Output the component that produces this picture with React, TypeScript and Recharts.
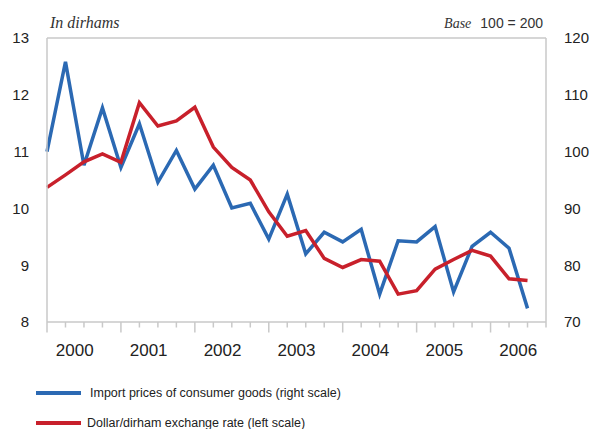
import React from 'react';
import { LineChart, Line, XAxis, YAxis, ReferenceLine } from 'recharts';

const quarters = [
  '2000Q1', '2000Q2', '2000Q3', '2000Q4',
  '2001Q1', '2001Q2', '2001Q3', '2001Q4',
  '2002Q1', '2002Q2', '2002Q3', '2002Q4',
  '2003Q1', '2003Q2', '2003Q3', '2003Q4',
  '2004Q1', '2004Q2', '2004Q3', '2004Q4',
  '2005Q1', '2005Q2', '2005Q3', '2005Q4',
  '2006Q1', '2006Q2', '2006Q3', '2006Q4',
];

const years = ['2000', '2001', '2002', '2003', '2004', '2005', '2006'];

// Right scale (index)
const importPrices = [
  100.0, 115.8, 97.6, 107.7, 97.2, 104.9, 94.6, 100.2, 93.4, 97.6, 90.1, 90.9,
  84.6, 92.5, 82.0, 85.8, 84.1, 86.3, 74.9, 84.3, 84.1, 86.8, 75.3, 83.3, 85.8,
  83.0, 72.4,
];

// Left scale (dirhams)
const exchangeRate = [
  10.37, 10.59, 10.82, 10.96, 10.81, 11.86, 11.45, 11.54, 11.78, 11.08, 10.72,
  10.5, 9.94, 9.51, 9.61, 9.12, 8.96, 9.1, 9.07, 8.49, 8.55, 8.93, 9.1, 9.26,
  9.16, 8.76, 8.73,
];

const leftTicks = [8, 9, 10, 11, 12, 13];
const rightTicks = [70, 80, 90, 100, 110, 120];
const quarterTicks = quarters.map((_, i) => i).slice(0, 28);
const yearTicks = years.map((_, k) => k * 4 + 1.5);

const importName = 'Import prices of consumer goods (right scale)';
const rateName = 'Dollar/dirham exchange rate (left scale)';

const BLUE = '#2b69b3';
const RED = '#c8202b';
const FRAME = '#c9c9c9';

const data = quarters.map((q, i) => ({
  i,
  q,
  imp: i < importPrices.length ? importPrices[i] : null,
  rate: i < exchangeRate.length ? exchangeRate[i] : null,
}));

const QuarterTick = (props: any) => {
  const { x, y, payload } = props;
  const major = payload.value % 4 === 0;
  return (
    <line
      x1={x}
      y1={y}
      x2={x}
      y2={y + (major ? 10.5 : 5.5)}
      stroke={FRAME}
      strokeWidth={1.5}
    />
  );
};

export default function App() {
  const sans = 'Arial, "Liberation Sans", Helvetica, sans-serif';
  const serif = '"Liberation Serif", "Times New Roman", serif';
  return (
    <div
      style={{
        position: 'absolute',
        left: 0,
        top: 0,
        width: 591,
        height: 429,
        background: '#fff',
        overflow: 'hidden',
      }}
    >
      <div
        style={{
          position: 'absolute',
          left: 50,
          top: 14,
          fontFamily: serif,
          fontStyle: 'italic',
          fontSize: 16,
          lineHeight: '18px',
          color: '#333',
        }}
      >
        In dirhams
      </div>
      <div
        style={{
          position: 'absolute',
          right: 48,
          top: 15,
          fontSize: 14,
          lineHeight: '16px',
          color: '#333',
          whiteSpace: 'nowrap',
        }}
      >
        <span style={{ fontFamily: serif, fontStyle: 'italic' }}>Base</span>
        <span style={{ fontFamily: sans, marginLeft: 9 }}>100 = 200</span>
      </div>

      <LineChart
        width={591}
        height={429}
        data={data}
        margin={{ top: 38, right: 0, left: 0, bottom: 55 }}
      >
        <XAxis
          xAxisId="q"
          dataKey="i"
          type="number"
          domain={[0, 27]}
          ticks={quarterTicks}
          interval={0}
          tickLine={false}
          tickSize={0}
          tickMargin={0}
          axisLine={{ stroke: FRAME, strokeWidth: 1.5 }}
          tick={<QuarterTick />}
          height={12}
        />
        <XAxis
          xAxisId="y"
          dataKey="i"
          type="number"
          domain={[0, 27]}
          ticks={yearTicks}
          interval={0}
          tickLine={false}
          tickSize={0}
          tickMargin={10}
          axisLine={false}
          tickFormatter={(v: number) => years[Math.floor(v / 4)]}
          tick={{ fill: '#222', fontSize: 17, fontFamily: sans }}
          height={40}
        />
        <YAxis
          yAxisId="left"
          orientation="left"
          domain={[8, 13]}
          ticks={leftTicks}
          interval={0}
          width={47}
          tickLine={false}
          tickSize={0}
          tickMargin={18}
          axisLine={{ stroke: FRAME, strokeWidth: 1.5 }}
          tick={{ fill: '#222', fontSize: 15, fontFamily: sans }}
        />
        <YAxis
          yAxisId="right"
          orientation="right"
          domain={[70, 120]}
          ticks={rightTicks}
          interval={0}
          width={45}
          tickLine={false}
          tickSize={0}
          tickMargin={18}
          axisLine={{ stroke: FRAME, strokeWidth: 1.5 }}
          tick={{ fill: '#222', fontSize: 15, fontFamily: sans, textAnchor: 'start' }}
        />
        <ReferenceLine
          yAxisId="left"
          xAxisId="q"
          y={13}
          stroke={FRAME}
          strokeWidth={1.5}
        />
        <Line
          xAxisId="q"
          yAxisId="right"
          dataKey="imp"
          name={importName}
          stroke={BLUE}
          strokeWidth={3.5}
          dot={false}
          activeDot={false}
          isAnimationActive={false}
          connectNulls={false}
        />
        <Line
          xAxisId="q"
          yAxisId="left"
          dataKey="rate"
          name={rateName}
          stroke={RED}
          strokeWidth={3.5}
          dot={false}
          activeDot={false}
          isAnimationActive={false}
          connectNulls={false}
        />
      </LineChart>

      <div
        style={{
          position: 'absolute',
          left: 36,
          top: 391,
          width: 45,
          height: 3.5,
          background: BLUE,
        }}
      />
      <div
        style={{
          position: 'absolute',
          left: 90,
          top: 385,
          fontFamily: sans,
          fontSize: 12.5,
          lineHeight: '16px',
          color: '#222',
          whiteSpace: 'nowrap',
        }}
      >
        {importName}
      </div>
      <div
        style={{
          position: 'absolute',
          left: 36,
          top: 421,
          width: 45,
          height: 3.5,
          background: RED,
        }}
      />
      <div
        style={{
          position: 'absolute',
          left: 87,
          top: 415,
          fontFamily: sans,
          fontSize: 12.5,
          lineHeight: '16px',
          color: '#222',
          whiteSpace: 'nowrap',
        }}
      >
        {rateName}
      </div>
    </div>
  );
}
